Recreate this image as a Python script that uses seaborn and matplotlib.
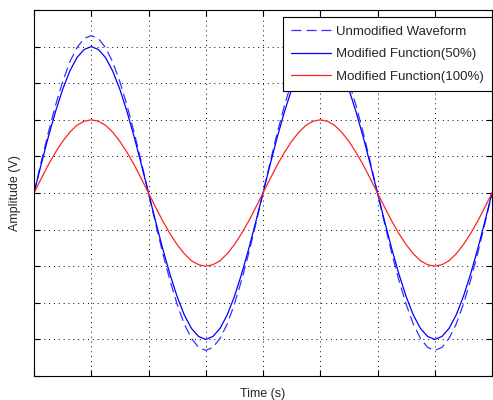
import matplotlib
matplotlib.use("Agg")
import matplotlib.pyplot as plt
import seaborn as sns

# Time samples (eighth grid steps) and amplitudes
time = [0, 0.125, 0.25, 0.375, 0.5, 0.625, 0.75, 0.875,
        1, 1.125, 1.25, 1.375, 1.5, 1.625, 1.75, 1.875,
        2, 2.125, 2.25, 2.375, 2.5, 2.625, 2.75, 2.875,
        3, 3.125, 3.25, 3.375, 3.5, 3.625, 3.75, 3.875,
        4, 4.125, 4.25, 4.375, 4.5, 4.625, 4.75, 4.875,
        5, 5.125, 5.25, 5.375, 5.5, 5.625, 5.75, 5.875,
        6, 6.125, 6.25, 6.375, 6.5, 6.625, 6.75, 6.875,
        7, 7.125, 7.25, 7.375, 7.5, 7.625, 7.75, 7.875, 8]

unmodified = [0, 0.84, 1.65, 2.39, 3.04, 3.58, 3.97, 4.22,
              4.3, 4.22, 3.97, 3.58, 3.04, 2.39, 1.65, 0.84,
              0, -0.84, -1.65, -2.39, -3.04, -3.58, -3.97, -4.22,
              -4.3, -4.22, -3.97, -3.58, -3.04, -2.39, -1.65, -0.84,
              0, 0.84, 1.65, 2.39, 3.04, 3.58, 3.97, 4.22,
              4.3, 4.22, 3.97, 3.58, 3.04, 2.39, 1.65, 0.84,
              0, -0.84, -1.65, -2.39, -3.04, -3.58, -3.97, -4.22,
              -4.3, -4.22, -3.97, -3.58, -3.04, -2.39, -1.65, -0.84, 0]

modified_50 = [0, 0.78, 1.53, 2.22, 2.83, 3.33, 3.70, 3.92,
               4.0, 3.92, 3.70, 3.33, 2.83, 2.22, 1.53, 0.78,
               0, -0.78, -1.53, -2.22, -2.83, -3.33, -3.70, -3.92,
               -4.0, -3.92, -3.70, -3.33, -2.83, -2.22, -1.53, -0.78,
               0, 0.78, 1.53, 2.22, 2.83, 3.33, 3.70, 3.92,
               4.0, 3.92, 3.70, 3.33, 2.83, 2.22, 1.53, 0.78,
               0, -0.78, -1.53, -2.22, -2.83, -3.33, -3.70, -3.92,
               -4.0, -3.92, -3.70, -3.33, -2.83, -2.22, -1.53, -0.78, 0]

modified_100 = [0, 0.39, 0.77, 1.11, 1.41, 1.66, 1.85, 1.96,
                2.0, 1.96, 1.85, 1.66, 1.41, 1.11, 0.77, 0.39,
                0, -0.39, -0.77, -1.11, -1.41, -1.66, -1.85, -1.96,
                -2.0, -1.96, -1.85, -1.66, -1.41, -1.11, -0.77, -0.39,
                0, 0.39, 0.77, 1.11, 1.41, 1.66, 1.85, 1.96,
                2.0, 1.96, 1.85, 1.66, 1.41, 1.11, 0.77, 0.39,
                0, -0.39, -0.77, -1.11, -1.41, -1.66, -1.85, -1.96,
                -2.0, -1.96, -1.85, -1.66, -1.41, -1.11, -0.77, -0.39, 0]

labels = ['Unmodified Waveform', 'Modified Function(50%)', 'Modified Function(100%)']

sns.set_style('ticks')
plt.rcParams['font.family'] = ['Liberation Sans', 'DejaVu Sans']

fig = plt.figure(figsize=(4.93, 4.0), dpi=100)
ax = fig.add_axes([34 / 493, 24 / 400, 458 / 493, 366 / 400])

# Plot the three waveforms
sns.lineplot(x=time, y=unmodified, ax=ax, color='#3333ff', linewidth=0.9,
             linestyle=(0, (8, 4)), label=labels[0])
sns.lineplot(x=time, y=modified_50, ax=ax, color='#0000ff', linewidth=0.9, label=labels[1])
sns.lineplot(x=time, y=modified_100, ax=ax, color='#ff2222', linewidth=0.9, label=labels[2])

ax.set_xlim(0, 8)
ax.set_ylim(-5, 5)
ax.set_xticks(range(0, 9))
ax.set_yticks(range(-5, 6))
ax.set_xticklabels([])
ax.set_yticklabels([])
ax.tick_params(direction='in', length=4, width=0.8, top=True, right=True, colors='black')
ax.grid(True, linestyle=(0, (1, 4)), color='black', linewidth=0.7)
for spine in ax.spines.values():
    spine.set_linewidth(0.8)
    spine.set_color('black')

ax.set_xlabel('Time (s)', fontsize=9, labelpad=5)
ax.set_ylabel('Amplitude (V)', fontsize=9, labelpad=6)

leg = ax.legend(loc='upper right', bbox_to_anchor=(1.0, 1.0 - 7 / 366),
                fontsize=9.5, frameon=True, fancybox=False,
                borderaxespad=0, handlelength=3.0, handletextpad=0.35,
                labelspacing=0.78, borderpad=0.65,
                edgecolor='black', framealpha=1)
leg.get_frame().set_linewidth(0.8)

fig.savefig('out.png', dpi=100)
